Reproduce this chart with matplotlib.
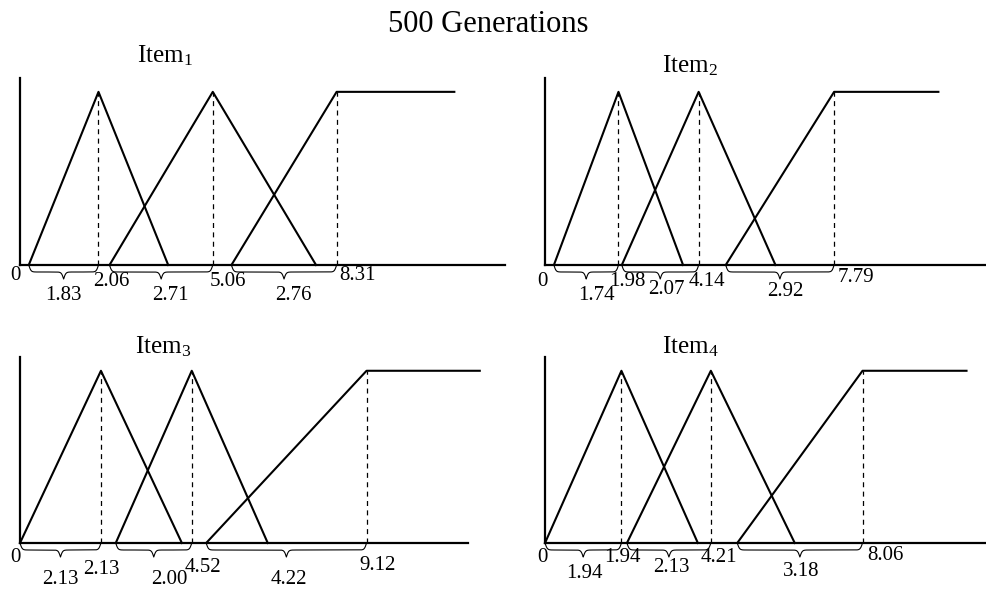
import numpy as np
import matplotlib
matplotlib.use("Agg")
import matplotlib.pyplot as plt

plt.rcParams['font.family'] = ['Liberation Serif', 'DejaVu Serif']
plt.rcParams['mathtext.fontset'] = 'custom'
plt.rcParams['mathtext.rm'] = 'Liberation Serif'
plt.rcParams['mathtext.it'] = 'Liberation Serif:italic'

# membership function centers and spreads for each item (500 generations)
item_names = [r"Item$_\mathrm{1}$", r"Item$_\mathrm{2}$", r"Item$_\mathrm{3}$", r"Item$_\mathrm{4}$"]
item1_centers = [2.06, 5.06, 8.31]
item1_spreads = [1.83, 2.71, 2.76]
item2_centers = [1.98, 4.14, 7.79]
item2_spreads = [1.74, 2.07, 2.92]
item3_centers = [2.13, 4.52, 9.12]
item3_spreads = [2.13, 2.00, 4.22]
item4_centers = [1.94, 4.21, 8.06]
item4_spreads = [1.94, 2.13, 3.18]
plateau_end = [11.4, 10.6, 12.1, 10.7]
axis_end = [12.73, 11.91, 11.79, 11.22]

centers = [item1_centers, item2_centers, item3_centers, item4_centers]
spreads = [item1_spreads, item2_spreads, item3_spreads, item4_spreads]

W, H = 987, 591
fig = plt.figure(figsize=(W / 100, H / 100), dpi=100)

# axes boxes in pixels: left, right, bottom(axis line), top
boxes = [(20, 505, 265, 78), (545, 987, 265, 78),
         (20, 468, 543, 357), (545, 987, 543, 357)]
title_pos = [(137, 62), (662, 72), (135, 353), (662, 353)]

# label offsets in pixels (dx from line, dy below axis)
val_dx = [[13, 15, 21], [9, 8, 22], [0, 11, 11], [1, 8, 23]]
val_dy = [[17, 17, 10], [17, 17, 12], [27, 24, 22], [15, 15, 12]]
br_dx = [[0, 9, 9], [10, 6, 5], [0, 16, 3], [1, 2, 1]]
br_dy = [[30, 30, 30], [30, 25, 27], [37, 37, 37], [30, 25, 29]]
zero_off = [(-5, 10), (-3, 17), (-5, 15), (-3, 14)]

ytop = 1.08
FS = 15
px = 0.72  # points per pixel


def brace(ax, x0, x1, depth):
    n = 301
    x = np.linspace(x0, x1, n)
    beta = 35.0
    xh = x[:n // 2 + 1]
    yh = (1 / (1 + np.exp(-beta * (xh - xh[0])))
          + 1 / (1 + np.exp(-beta * (xh - xh[-1]))))
    y = np.concatenate((yh, yh[-2::-1]))
    ax.plot(x, -(y - 0.5) * depth, color='black', lw=0.8, clip_on=False)


for i in range(4):
    l, r, b, t = boxes[i]
    ax = fig.add_axes([l / W, 1 - b / H, (r - l) / W, (b - t) / H])
    ax.set_xlim(0, axis_end[i])
    ax.set_ylim(0, ytop)
    for s in ['top', 'right']:
        ax.spines[s].set_visible(False)
    for s in ['left', 'bottom']:
        ax.spines[s].set_linewidth(1.6)
    ax.set_xticks([])
    ax.set_yticks([])
    ax.patch.set_alpha(0)

    c = centers[i]
    sp = spreads[i]
    lw = 1.5
    # two triangles
    for j in range(2):
        ax.plot([c[j] - sp[j], c[j], c[j] + sp[j]], [0, 1, 0],
                color='black', lw=lw, clip_on=False)
    # right shoulder
    ax.plot([c[2] - sp[2], c[2], plateau_end[i]], [0, 1, 1],
            color='black', lw=lw, clip_on=False)

    depth = 14 / (ax.bbox.height / ytop)
    for j in range(3):
        ax.plot([c[j], c[j]], [0, 1], color='black', lw=0.9,
                dashes=(4, 3.5))
        brace(ax, c[j] - sp[j], c[j], depth)
        ax.annotate("%.2f" % c[j], xy=(c[j], 0),
                    xytext=(val_dx[i][j] * px, -val_dy[i][j] * px),
                    textcoords='offset points', ha='center', va='center',
                    fontsize=FS, annotation_clip=False)
        mid = c[j] - sp[j] / 2
        ax.annotate("%.2f" % sp[j], xy=(mid, 0),
                    xytext=(br_dx[i][j] * px, -br_dy[i][j] * px),
                    textcoords='offset points', ha='center', va='center',
                    fontsize=FS, annotation_clip=False)
    ax.annotate("0", xy=(0, 0),
                xytext=(zero_off[i][0] * px, -zero_off[i][1] * px),
                textcoords='offset points', ha='center', va='center',
                fontsize=FS, annotation_clip=False)

    tx, ty = title_pos[i]
    fig.text(tx / W, 1 - ty / H, item_names[i], fontsize=18,
             ha='left', va='baseline')

fig.text(488 / W, 1 - 32 / H, "500 Generations", fontsize=22,
         ha='center', va='baseline')

fig.savefig("out.png", dpi=100)
